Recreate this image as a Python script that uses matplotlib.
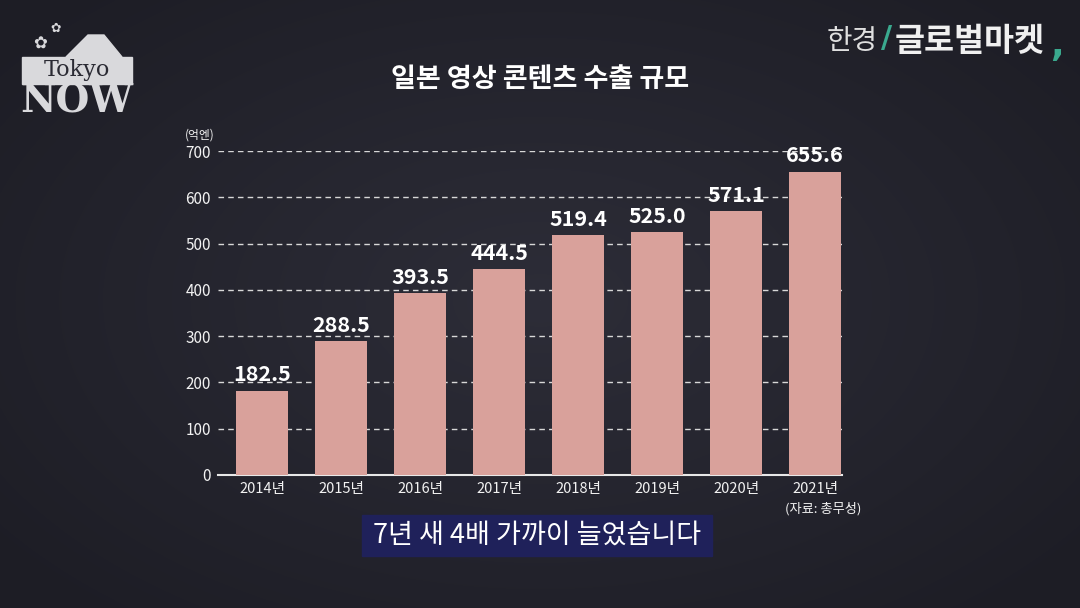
import matplotlib
matplotlib.use("Agg")
import matplotlib.pyplot as plt
import numpy as np
from matplotlib.patches import Rectangle, Polygon

plt.rcParams['font.family'] = ['Noto Sans CJK KR', 'DejaVu Sans']

years = ['2014년', '2015년', '2016년', '2017년', '2018년', '2019년', '2020년', '2021년']
values = [182.5, 288.5, 393.5, 444.5, 519.4, 525.0, 571.1, 655.6]
yticks = [0, 100, 200, 300, 400, 500, 600, 700]

bg = '#25252e'
bar_color = '#d9a19b'
text_color = '#f2f2f2'

fig = plt.figure(figsize=(10.8, 6.08), dpi=100)
fig.patch.set_facecolor(bg)

# background vignette
bg_ax = fig.add_axes([0, 0, 1, 1], zorder=-10)
yy, xx = np.mgrid[0:608, 0:1080]
r = np.sqrt(((xx - 540) / 700.0) ** 2 + ((yy - 300) / 420.0) ** 2)
shade = np.clip(r, 0, 1)
base = np.array([0x2d, 0x2d, 0x38]) / 255.0
dark = np.array([0x1d, 0x1d, 0x25]) / 255.0
img = base[None, None, :] * (1 - shade[..., None]) + dark[None, None, :] * shade[..., None]
bg_ax.imshow(img, extent=[0, 1, 0, 1], aspect='auto')
bg_ax.axis('off')

ax = fig.add_axes([0.2019, 0.2188, 0.5777, 0.5328])
ax.set_facecolor('none')
x = np.arange(len(years))
ax.bar(x, values, width=0.66, color=bar_color, zorder=3)
for xi, v in zip(x, values):
    ax.text(xi, v + 11, f'{v:.1f}', ha='center', va='bottom', color='white',
            fontsize=15.5, fontweight='heavy', zorder=4)

ax.set_xlim(-0.557, 7.34)
ax.set_ylim(0, 700)
ax.set_yticks(yticks)
ax.set_yticklabels([str(t) for t in yticks], color=text_color, fontsize=11)
ax.set_xticks(x)
ax.set_xticklabels(years, color=text_color, fontsize=10.5)
ax.tick_params(axis='both', length=0, pad=5)
for t in yticks[1:]:
    ax.axhline(t, color='#d8d8d8', lw=1, ls=(0, (4, 3)), zorder=1)
for s in ['top', 'right', 'left']:
    ax.spines[s].set_visible(False)
ax.spines['bottom'].set_color('#e8e8e8')
ax.spines['bottom'].set_linewidth(1.5)

ax.text(-0.005, 1.03, '(억엔)', transform=ax.transAxes, ha='right',
        va='bottom', color=text_color, fontsize=8.5)
ax.text(7.1, -0.085, '(자료: 총무성)', transform=ax.get_xaxis_transform(), ha='center',
        va='top', color=text_color, fontsize=9.5)

fig.text(0.5, 0.87, '일본 영상 콘텐츠 수출 규모', ha='center', va='center',
         color='white', fontsize=19.5, fontweight='bold')

# subtitle box
fig.patches.append(Rectangle((362 / 1080, 1 - 556 / 608), 350 / 1080, 41 / 608,
                             transform=fig.transFigure, color='#1f215a', zorder=1))
fig.text(537 / 1080, 1 - 535 / 608, '7년 새 4배 가까이 늘었습니다', ha='center', va='center',
         color='white', fontsize=19.5, fontweight='medium', zorder=2)

# Tokyo NOW logo
logo_c = '#d9d9dc'
fig.patches.append(Rectangle((22 / 1080, 1 - 84 / 608), 110 / 1080, 27 / 608,
                             transform=fig.transFigure, color=logo_c, zorder=1))
fig.patches.append(Polygon([(66 / 1080, 1 - 57 / 608), (88 / 1080, 1 - 35 / 608),
                            (104 / 1080, 1 - 35 / 608), (122 / 1080, 1 - 57 / 608)],
                           closed=True, transform=fig.transFigure, color=logo_c, zorder=1))
fig.text(77 / 1080, 1 - 70 / 608, 'Tokyo', ha='center', va='center', color='#2a2a33',
         fontsize=16, family='DejaVu Serif', zorder=2)
fig.text(77 / 1080, 1 - 101 / 608, 'NOW', ha='center', va='center', color=logo_c,
         fontsize=28, family='DejaVu Serif', fontweight='bold', zorder=2)
fig.text(40 / 1080, 1 - 44 / 608, '✿', ha='center', va='center', color=logo_c,
         fontsize=12, family='DejaVu Sans')
fig.text(56 / 1080, 1 - 28 / 608, '✿', ha='center', va='center', color=logo_c,
         fontsize=9, family='DejaVu Sans')

# Hankyung logo
fig.text(827 / 1080, 1 - 41 / 608, '한경', ha='left', va='center', color='#e0e0e0', fontsize=20)
fig.text(881 / 1080, 1 - 39 / 608, '/', ha='left', va='center', color='#3aa98e',
         fontsize=22, fontweight='bold', family='DejaVu Sans')
fig.text(895 / 1080, 1 - 41 / 608, '글로벌마켓', ha='left', va='center', color='#f0f0f0',
         fontsize=23.5, fontweight='heavy')
fig.text(1050 / 1080, 1 - 46 / 608, ',', ha='left', va='center', color='#3aa98e',
         fontsize=26, fontweight='bold', family='DejaVu Sans')

fig.savefig('out.png', dpi=100, facecolor=fig.get_facecolor())
